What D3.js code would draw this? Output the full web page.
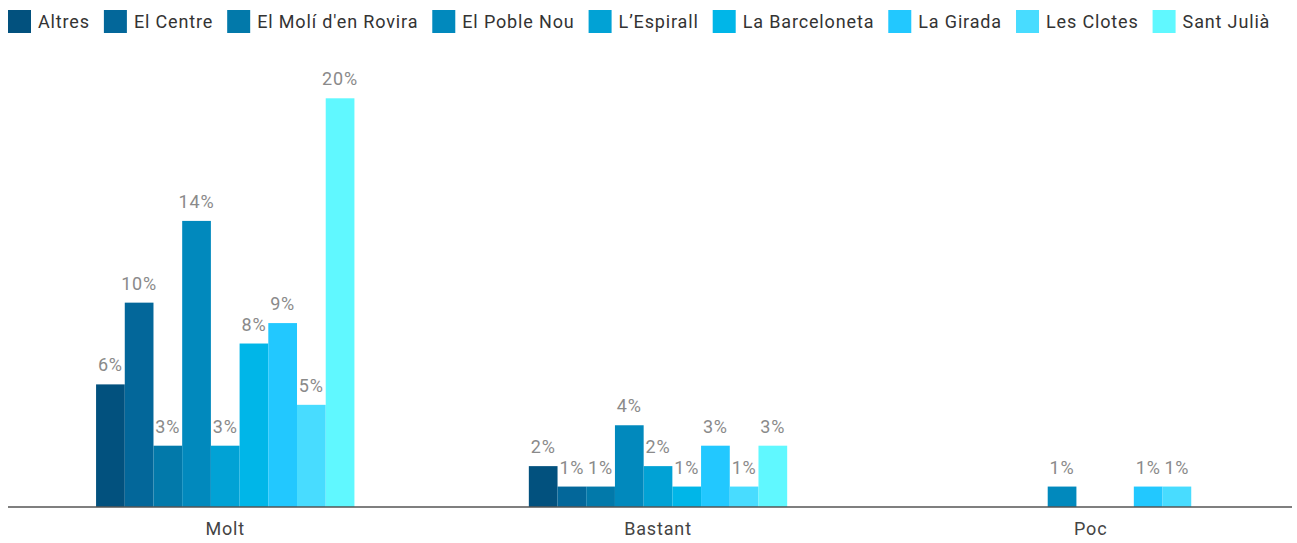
<!DOCTYPE html>
<html>
<head>
<meta charset="utf-8">
<script src="https://cdn.jsdelivr.net/npm/d3@7"></script>
<style>
  body { margin: 0; background: #fff; }
  text { font-family: Roboto, "Noto Sans", sans-serif; letter-spacing: 0.85px; }
</style>
</head>
<body>
<div id="chart"></div>
<script>
// categories (x groups)
const groups = ["Molt", "Bastant", "Poc"];
// series (neighbourhoods)
const series = ["Altres", "El Centre", "El Molí d'en Rovira", "El Poble Nou", "L’Espirall",
  "La Barceloneta", "La Girada", "Les Clotes", "Sant Julià"];
// values in %, one array per group, in series order
const molt = [6, 10, 3, 14, 3, 8, 9, 5, 20];
const bastant = [2, 1, 1, 4, 2, 1, 3, 1, 3];
const poc = [0, 0, 0, 1, 0, 0, 1, 1, 0];
const colors = ["#02517e", "#03679a", "#0279aa", "#0189bd", "#01a2d5",
  "#00b6e8", "#22c8ff", "#48dcff", "#60f8ff"];

const values = [molt, bastant, poc];
const data = [];
groups.forEach((g, gi) => {
  series.forEach((s, si) => {
    data.push({ group: g, name: s, value: values[gi][si] });
  });
});

const W = 1297, H = 543;
const svg = d3.select("#chart").append("svg").attr("width", W).attr("height", H);

const axisLeft = 8, axisRight = 1292, baseY = 507;

const x0 = d3.scaleBand()
  .domain(groups)
  .range([axisLeft, axisRight])
  .paddingInner(0.403)
  .paddingOuter(0.185)
  .align(0.55);

const x1 = d3.scaleBand()
  .domain(series)
  .range([0, x0.bandwidth()]);

const y = d3.scaleLinear().domain([0, 20]).range([baseY, 98.3]);

const color = d3.scaleOrdinal().domain(series).range(colors);

// bars
const bars = svg.append("g");
bars.selectAll("rect")
  .data(data.filter(d => d.value > 0))
  .enter()
  .append("rect")
  .attr("x", d => x0(d.group) + x1(d.name))
  .attr("y", d => y(d.value))
  .attr("width", x1.bandwidth())
  .attr("height", d => baseY - y(d.value))
  .attr("fill", d => color(d.name));

// value labels
svg.append("g").selectAll("text")
  .data(data.filter(d => d.value > 0))
  .enter()
  .append("text")
  .attr("x", d => x0(d.group) + x1(d.name) + x1.bandwidth() / 2)
  .attr("y", d => y(d.value) - 13)
  .attr("text-anchor", "middle")
  .attr("font-size", 18)
  .attr("fill", "#8a8a8a")
  .text(d => d.value + "%");

// x axis
const xAxis = svg.append("g")
  .attr("transform", "translate(0," + baseY + ")")
  .call(d3.axisBottom(x0).tickSize(0).tickPadding(0));
xAxis.select(".domain").remove();
xAxis.selectAll("text")
  .attr("dy", null)
  .attr("y", 28)
  .attr("font-size", 18)
  .attr("font-family", "Roboto, sans-serif")
  .attr("fill", "#444");
svg.append("line")
  .attr("x1", axisLeft).attr("x2", axisRight)
  .attr("y1", baseY).attr("y2", baseY)
  .attr("stroke", "#555")
  .attr("stroke-width", 1.5);

// legend
const legend = svg.append("g");
let lx = 8;
series.forEach(s => {
  const item = legend.append("g").attr("transform", "translate(" + lx + ",0)");
  item.append("rect")
    .attr("x", 0).attr("y", 10)
    .attr("width", 23).attr("height", 23)
    .attr("fill", color(s));
  const t = item.append("text")
    .attr("x", 30).attr("y", 28)
    .attr("font-size", 18)
    .attr("fill", "#333")
    .text(s);
  lx += 30 + t.node().getComputedTextLength() + 14;
});
</script>
</body>
</html>
